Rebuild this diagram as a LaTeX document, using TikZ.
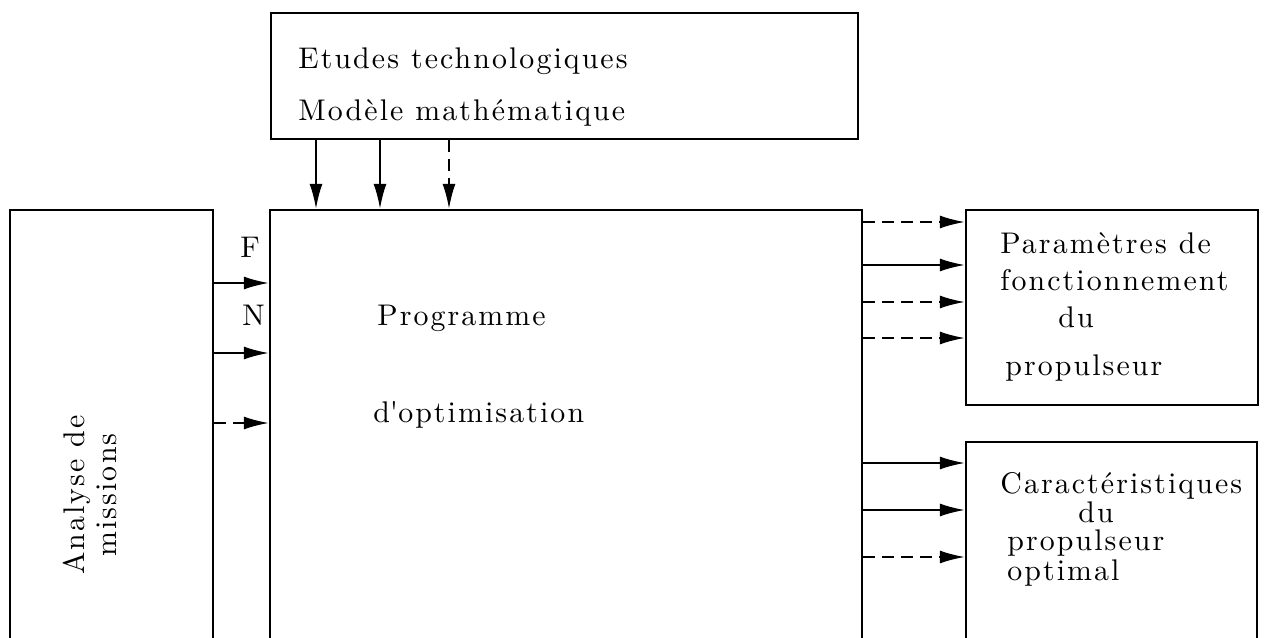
\documentclass[tikz,border=0pt]{standalone}
\usepackage{fontspec}
\newfontfamily\lettre{lmroman10-regular.otf}[LetterSpace=7]
\usetikzlibrary{arrows.meta,positioning}

\tikzset{boite/.style = {draw, rectangle, line width=1.3pt, inner sep=0pt,
                         minimum width=#1},
         texte/.style = {inner sep=0pt, anchor=base west,
                         font=\lettre\fontsize{17}{18}\selectfont},
         fleche/.style = {line width=1.1pt, -{Latex[length=5mm,width=2.6mm]}},
         plein/.style = {fleche},
         pointille/.style = {fleche, dash pattern=on 2.4mm off 1.4mm}
        }

\begin{document}
\begin{tikzpicture}
  \useasboundingbox (0,0) rectangle (25.42,-12.76);
  \clip (0,0) rectangle (25.42,-12.76);

  \node[boite=11.74cm, minimum height=2.52cm] (etudes) at (11.29,-1.52) {};
  \node[boite=4.06cm, minimum height=9cm] (analyse) at (2.23,-8.7) {};
  \node[boite=11.84cm, minimum height=9cm] (prog) at (11.32,-8.7) {};
  \node[boite=5.84cm, minimum height=3.9cm] (param) at (22.24,-6.15) {};
  \node[boite=5.82cm, minimum height=4.36cm] (caract) at (22.23,-11.02) {};

  \node[texte] (etu) at (5.96,-1.36) {Etudes technologiques};
  \node[texte] (mod) at (5.96,-2.4) {Modèle mathématique};
  \node[texte] (f) at (4.8,-5.14) {F};
  \node[texte] (n) at (4.84,-6.5) {N};
  \node[texte] (pro) at (7.54,-6.5) {Programme};
  \node[texte] (opt) at (7.46,-8.44) {d\textquotesingle optimisation};
  \node[texte] (par1) at (20.0,-5.06) {Paramètres de};
  \node[texte] (par2) at (20.0,-5.8) {fonctionnement};
  \node[texte] (par3) at (21.16,-6.54) {du};
  \node[texte] (par4) at (20.1,-7.5) {propulseur};
  \node[texte] (car1) at (20.0,-9.86) {Caractéristiques};
  \node[texte] (car2) at (21.56,-10.44) {du};
  \node[texte] (car3) at (20.14,-11.0) {propulseur};
  \node[texte] (car4) at (20.14,-11.6) {optimal};
  \node[texte, anchor=center, rotate=90, align=center] (ana) at (1.8,-9.9)
       {Analyse de\\missions};

  \foreach \x/\sty in {6.32/plein, 7.6/plein, 8.98/pointille}
    \draw[\sty] (\x,0 |- etudes.south) -- (\x,0 |- prog.north);
  \foreach \y/\sty in {5.66/plein, 7.06/plein, 8.46/pointille}
    \draw[\sty] (analyse.east |- 0,-\y) -- (prog.west |- 0,-\y);
  \foreach \y/\sty in {4.44/pointille, 5.3/plein, 6.04/pointille, 6.76/pointille}
    \draw[\sty] (prog.east |- 0,-\y) -- (param.west |- 0,-\y);
  \foreach \y/\sty in {9.26/plein, 10.2/plein, 11.14/pointille}
    \draw[\sty] (prog.east |- 0,-\y) -- (caract.west |- 0,-\y);
\end{tikzpicture}
\end{document}
